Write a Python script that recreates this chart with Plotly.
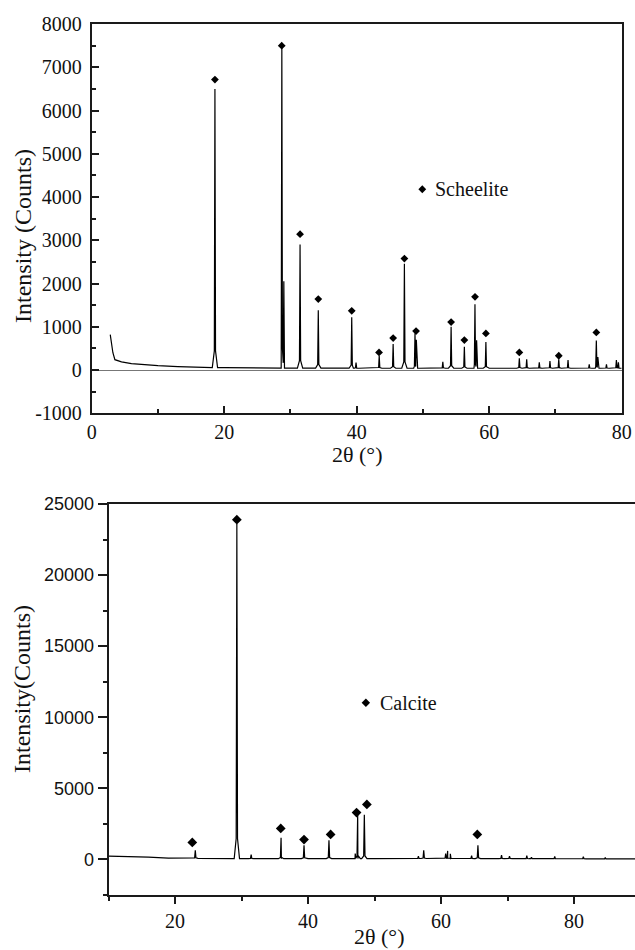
import numpy as np
import plotly.graph_objects as go

# ---------------- Scheelite (top) ----------------
sch_bg_x = [2.8, 3.0, 3.2, 3.5, 4.5, 6.0, 8.0, 10.0, 13.0, 16.0, 20.0, 25.0, 30.0, 40.0, 50.0, 60.0, 70.0, 80.0]
sch_bg_y = [820, 620, 400, 240, 190, 150, 120, 100, 80, 62, 55, 50, 45, 42, 42, 42, 42, 42]
sch_peak_x = [18.6, 28.7, 29.0, 31.45, 34.2, 39.25, 39.9, 43.4, 45.5, 47.2, 48.8, 49.0, 53.0, 54.25,
              56.25, 57.85, 58.1, 59.5, 64.55, 65.66, 67.56, 69.17, 70.5, 71.9, 75.1, 76.17, 76.4,
              77.7, 79.2, 79.5]
sch_peak_y = [6500, 7450, 2050, 2900, 1380, 1220, 170, 330, 600, 2460, 850, 700, 190, 1000,
              540, 1520, 690, 650, 270, 250, 180, 210, 250, 230, 130, 680, 300,
              130, 230, 180]
sch_mark_x = [18.6, 28.68, 31.45, 34.2, 39.25, 43.37, 45.5, 47.2, 48.96, 54.25, 56.25, 57.86, 59.5, 64.55, 70.5, 76.17]
sch_mark_y = [6715, 7500, 3140, 1640, 1370, 408, 738, 2577, 900, 1108, 692, 1692, 846, 408, 330, 869]
sch_ytick_vals = [-1000, 0, 1000, 2000, 3000, 4000, 5000, 6000, 7000, 8000]
sch_ytick_text = ["-1000", "0", "1000", "2000", "3000", "4000", "5000", "6000", "7000", "8000"]

# ---------------- Calcite (bottom) ----------------
cal_bg_x = [10, 12, 14, 16, 19, 22, 25, 28, 32, 36, 40, 45, 50, 55, 60, 65, 70, 75, 80, 85, 89.2]
cal_bg_y = [230, 215, 200, 160, 100, 80, 70, 55, 55, 55, 55, 60, 60, 65, 70, 60, 55, 50, 45, 40, 40]
cal_peak_x = [23.05, 29.3, 31.45, 35.95, 39.4, 43.15, 47.1, 47.47, 48.47, 56.6, 57.4, 60.7, 61.0, 61.4,
              64.6, 65.55, 69.1, 70.3, 72.9, 73.6, 77.1, 81.4, 84.7]
cal_peak_y = [650, 23600, 350, 1520, 1000, 1350, 420, 3200, 3150, 230, 650, 420, 600, 400,
              260, 1000, 300, 230, 260, 150, 220, 200, 130]
cal_mark_x = [22.6, 29.3, 35.9, 39.4, 43.4, 47.3, 48.85, 65.46]
cal_mark_y = [1195, 23900, 2180, 1400, 1758, 3300, 3870, 1758]


def build_pattern(bg_x, bg_y, pk_x, pk_y, base_hw, mid_hw, mid_frac):
    """Join background points and peak profiles into one polyline."""
    pts = list(zip(bg_x, bg_y))
    for px, py in zip(pk_x, pk_y):
        b = float(np.interp(px, bg_x, bg_y))
        m = b + mid_frac * (py - b)
        pts += [(px - base_hw, b), (px - mid_hw, m), (px, py), (px + mid_hw, m), (px + base_hw, b)]
    pts.sort(key=lambda p: p[0])
    return [p[0] for p in pts], [p[1] for p in pts]


sx, sy = build_pattern(sch_bg_x, sch_bg_y, sch_peak_x, sch_peak_y, 0.4, 0.09, 0.06)
cx, cy = build_pattern(cal_bg_x, cal_bg_y, cal_peak_x, cal_peak_y, 0.4, 0.1, 0.06)

W, H = 635, 950
SERIF = "Liberation Serif"
SANS = "Liberation Sans"
AX = "#1a1a1a"

fig = go.Figure()
fig.add_trace(go.Scatter(x=sx, y=sy, mode="lines", line=dict(color="black", width=1.2),
                         xaxis="x", yaxis="y", showlegend=False, hoverinfo="skip"))
fig.add_trace(go.Scatter(x=sch_mark_x, y=sch_mark_y, mode="markers",
                         marker=dict(symbol="diamond", size=6, color="black"),
                         xaxis="x", yaxis="y", showlegend=False))
fig.add_trace(go.Scatter(x=[49.9], y=[4180], mode="markers",
                         marker=dict(symbol="diamond", size=6, color="black"),
                         xaxis="x", yaxis="y", showlegend=False))
fig.add_trace(go.Scatter(x=cx, y=cy, mode="lines", line=dict(color="black", width=1.2),
                         xaxis="x2", yaxis="y2", showlegend=False, hoverinfo="skip"))
fig.add_trace(go.Scatter(x=cal_mark_x, y=cal_mark_y, mode="markers",
                         marker=dict(symbol="diamond", size=7.5, color="black"),
                         xaxis="x2", yaxis="y2", showlegend=False))
fig.add_trace(go.Scatter(x=[48.7], y=[11017], mode="markers",
                         marker=dict(symbol="diamond", size=6.5, color="black"),
                         xaxis="x2", yaxis="y2", showlegend=False))


def px_x(p):
    return p / W


def px_y(p):
    return 1 - p / H


common = dict(showgrid=False, automargin=False, showline=True, linecolor=AX, linewidth=1.8,
              tickcolor=AX, tickwidth=1.5, separatethousands=False, exponentformat="none")

fig.update_layout(
    width=W, height=H, margin=dict(l=0, r=0, t=0, b=0),
    paper_bgcolor="white", plot_bgcolor="white",
    xaxis=dict(domain=[px_x(91.7), px_x(621.7)], range=[0, 80], anchor="y",
               tickvals=[0, 20, 40, 60, 80], ticks="inside", ticklen=7,
               minor=dict(tickvals=[10, 30, 50, 70], ticks="inside", ticklen=4, tickcolor=AX, tickwidth=1.5),
               mirror=True, zeroline=False,
               tickfont=dict(family=SERIF, size=20, color="#111"), **common),
    yaxis=dict(domain=[px_y(413.3), px_y(24)], range=[-1000, 8000], anchor="x",
               tickvals=sch_ytick_vals, ticktext=sch_ytick_text,
               ticks="inside", ticklen=7, ticklabelstandoff=4,
               minor=dict(dtick=500, ticks="inside", ticklen=4, tickcolor=AX, tickwidth=1.5),
               mirror=True, zeroline=True, zerolinecolor="#777", zerolinewidth=1,
               tickfont=dict(family=SERIF, size=20, color="#111"), **common),
    xaxis2=dict(domain=[px_x(108.5), 1.0], range=[10, 89.17], anchor="y2",
                tickvals=[20, 40, 60, 80], ticks="outside", ticklen=7,
                minor=dict(tickvals=[10, 30, 50, 70], ticks="outside", ticklen=4, tickcolor=AX, tickwidth=1.5),
                mirror=True, zeroline=False,
                tickfont=dict(family=SERIF, size=20, color="#111"), **common),
    yaxis2=dict(domain=[px_y(895), px_y(504)], range=[-2500, 25000], anchor="x2",
                dtick=5000, tickformat="d", ticks="outside", ticklen=9,
                minor=dict(dtick=2500, ticks="outside", ticklen=4, tickcolor=AX, tickwidth=1.5),
                mirror=False, zeroline=False,
                tickfont=dict(family=SANS, size=18, color="#111"), **common),
    annotations=[
        dict(text="Intensity (Counts)", x=px_x(23), y=px_y(236), xref="paper", yref="paper",
             xanchor="center", yanchor="middle",
             textangle=-90, showarrow=False, font=dict(family=SERIF, size=24, color="#111")),
        dict(text="2θ (°)", x=px_x(357), y=px_y(455), xref="paper", yref="paper",
             xanchor="center", yanchor="middle",
             showarrow=False, font=dict(family=SERIF, size=22, color="#111")),
        dict(text="Intensity(Counts)", x=px_x(22), y=px_y(689), xref="paper", yref="paper",
             xanchor="center", yanchor="middle",
             textangle=-90, showarrow=False, font=dict(family=SERIF, size=24, color="#111")),
        dict(text="2θ (°)", x=px_x(379), y=px_y(936), xref="paper", yref="paper",
             xanchor="center", yanchor="middle",
             showarrow=False, font=dict(family=SERIF, size=22, color="#111")),
        dict(text="Scheelite", x=51.5, y=4180, xref="x", yref="y", xanchor="left", yanchor="middle",
             showarrow=False, font=dict(family=SERIF, size=20, color="#111")),
        dict(text="Calcite", x=50.5, y=11017, xref="x2", yref="y2", xanchor="left", yanchor="middle",
             showarrow=False, font=dict(family=SERIF, size=20, color="#111")),
    ],
)

fig.write_html("out.html", config={"displayModeBar": False},
               post_script="document.body.style.margin='0';document.body.style.overflow='hidden';")
